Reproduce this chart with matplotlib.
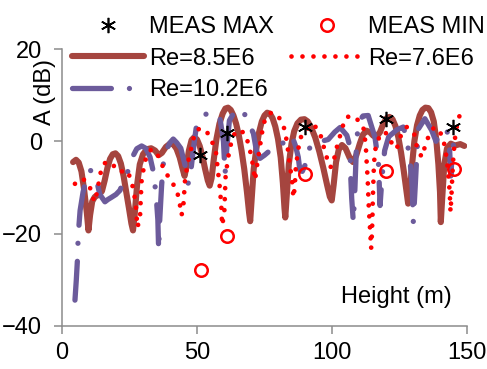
import matplotlib
matplotlib.use("Agg")
import matplotlib.pyplot as plt

plt.rcParams['font.family'] = ['Liberation Sans', 'DejaVu Sans']
plt.rcParams['lines.scale_dashes'] = False

# ---------------- data ----------------
meas_max_x = [51.1, 61.0, 90.0, 120.0, 144.7]
meas_max_y = [-3.0, 1.7, 3.0, 4.8, 3.1]

meas_min_x = [51.4, 61.0, 90.0, 120.0, 145.0]
meas_min_y = [-27.8, -20.4, -7.0, -6.5, -5.9]

re85_x = [4.1, 5.2, 6.2, 7.2, 8.2, 9.2, 9.8, 10.4, 11.2, 12.2, 13.5, 14.8, 15.8, 16.8,
          17.8, 18.8, 19.8, 20.8, 21.8, 22.8, 23.8, 24.8, 25.7, 26.3, 26.9, 27.8, 28.8,
          30.0, 31.5, 33.0, 34.5, 35.8, 37.0, 38.5, 40.0, 41.2, 42.4, 43.6, 44.6, 45.4,
          46.1, 47.0, 48.0, 49.0, 50.0, 51.0, 52.0, 53.0, 54.0, 54.7, 55.4, 56.2, 57.2,
          58.3, 59.5, 60.5, 61.5, 62.5, 63.5, 64.5, 65.5, 66.5, 67.5, 68.5, 69.3, 69.7,
          70.2, 71.0, 72.0, 73.0, 74.0, 75.0, 76.0, 77.0, 78.0, 79.0, 80.0, 81.0, 81.8,
          82.4, 82.7, 83.2, 84.0, 85.0, 86.0, 87.2, 88.5, 89.8, 91.0, 92.3, 93.8, 95.3,
          96.8, 98.2, 99.2, 99.9, 100.6, 101.5, 102.5, 103.7, 105.0, 106.5, 107.8, 109.0,
          110.3, 111.5, 112.8, 114.0, 115.3, 116.5, 117.8, 119.0, 120.2, 121.3, 122.4,
          123.5, 124.6, 125.6, 126.6, 127.5, 128.2, 128.7, 129.5, 130.5, 131.5, 132.5,
          133.5, 134.6, 135.7, 136.7, 137.7, 138.6, 139.4, 140.0, 140.3, 140.8, 141.6,
          142.6, 144.0, 145.5, 147.5, 149.0]
re85_y = [-4.5, -4.0, -4.6, -6.5, -10.5, -15.5, -19.3, -16.0, -13.0, -12.0, -11.6, -10.8,
          -8.5, -5.8, -3.8, -2.8, -2.6, -3.2, -4.8, -7.5, -11.0, -14.5, -17.8, -19.3,
          -16.0, -9.5, -5.0, -2.8, -1.7, -1.5, -2.0, -3.0, -2.5, -1.2, -0.5, -0.6, -1.6,
          -3.5, -5.8, -7.5, -5.5, -2.0, 0.3, 0.9, 0.4, -1.0, -3.2, -6.0, -8.5, -9.6, -8.0,
          -4.0, 0.5, 3.8, 6.0, 7.1, 7.3, 6.8, 5.6, 3.8, 1.3, -2.0, -6.0, -11.0, -15.5,
          -17.3, -13.0, -6.0, -1.5, 2.0, 4.3, 5.6, 6.2, 6.0, 5.0, 3.2, 0.5, -3.5, -9.0,
          -14.5, -16.5, -12.0, -5.0, -0.5, 2.2, 3.9, 4.7, 4.8, 4.3, 3.0, 0.8, -2.2, -5.8,
          -9.5, -12.0, -12.8, -9.5, -4.5, -1.8, -0.8, -1.5, -3.5, -4.5, -3.0, -0.5, 1.5,
          2.3, 2.0, 1.2, 1.0, 2.0, 3.8, 5.0, 5.3, 4.8, 3.3, 0.8, -2.5, -6.5, -10.5, -13.5,
          -12.5, -6.0, 0.0, 3.5, 5.6, 6.8, 7.3, 7.2, 6.3, 4.3, 0.5, -5.0, -11.0, -17.5,
          -12.5, -5.0, -1.5, -0.5, -0.9, -0.6, -1.0]

re76_x = [4.8, 6.0, 7.3, 8.8, 10.1, 11.4, 12.2, 13.1, 14.7, 16.2, 17.8, 19.5, 20.9, 22.5,
          24.2, 25.8, 26.7, 27.4, 27.9, 28.5, 28.9, 29.2, 29.5, 30.5, 31.4, 33.0, 34.4,
          36.2, 38.1, 40.5, 42.7, 43.6, 44.3, 45.0, 45.6, 46.5, 47.4, 49.3, 51.0, 53.3,
          55.2, 57.0, 58.5, 59.0, 59.3, 60.1, 60.6, 61.3, 62.0, 63.3, 64.7, 66.3, 67.8,
          69.0, 70.2, 70.9, 71.5, 72.3, 73.3, 74.6, 76.0, 77.7, 79.3, 80.7, 82.6, 83.8,
          84.4, 85.2, 85.7, 86.2, 86.6, 87.5, 88.1, 90.5, 93.1, 95.6, 96.8, 98.0, 99.3,
          100.5, 101.1, 102.3, 104.8, 106.5, 108.5, 110.5, 111.6, 112.2, 112.6, 112.9,
          113.2, 113.4, 113.6, 113.9, 114.2, 114.5, 114.8, 115.0, 115.1, 115.3, 115.5,
          115.9, 117.8, 119.5, 120.9, 122.7, 124.0, 125.2, 127.7, 129.3, 130.7, 131.4,
          133.2, 134.4, 136.0, 137.8, 139.4, 141.2, 142.5, 143.1, 143.6, 143.9, 144.3,
          144.6, 145.0, 145.7, 146.8, 148.6]
re76_y = [-9.2, -8.5, -8.1, -8.5, -9.5, -12.1, -13.1, -10.6, -5.6, -4.5, -4.5, -5.5, -6.6,
          -6.5, -6.3, -8.8, -11.3, -14.2, -18.6, -17.5, -16.4, -12.0, -8.4, -5.0, -3.0,
          -1.8, -1.9, -3.8, -6.6, -8.5, -11.0, -13.5, -16.0, -13.5, -8.1, -5.0, -2.7, 2.0,
          2.8, 2.4, 0.5, -2.3, -10.3, -14.0, -18.2, -15.7, -7.4, -4.5, -1.9, 1.0, 2.4, 2.2,
          1.7, -0.5, -3.4, -5.9, -8.4, -5.0, -1.2, 3.8, 5.5, 6.3, 5.8, 4.9, 2.4, -2.3,
          -5.2, -8.4, -12.2, -10.0, -5.5, -1.9, 0.6, 2.5, 3.8, 1.7, -0.9, -3.4, -5.6, -5.2,
          -2.7, -0.2, 4.9, 5.5, 5.3, 4.0, 3.1, 0.6, -1.9, -5.2, -8.0, -11.0, -14.0, -17.0,
          -20.0, -23.2, -20.0, -16.0, -12.8, -9.0, -5.6, -2.0, 1.5, 2.0, 1.3, -1.2, -1.6,
          0.9, 3.1, 2.5, 1.3, -1.2, -3.4, -1.2, 1.5, 3.0, 2.7, 0.6, -3.7, -7.4, -11.0,
          -15.3, -11.0, -7.0, -3.0, 1.5, 4.9, 7.4]

re102_x = [4.8, 5.3, 5.7, 6.0, 6.7, 7.8, 9.0, 10.4, 11.5, 12.8, 14.0, 15.9, 17.0, 18.4,
           20.0, 21.5, 23.3, 24.6, 26.0, 27.7, 29.5, 31.0, 32.6, 34.0, 35.0, 35.5, 35.8,
           36.2, 36.9, 37.5, 38.5, 40.0, 41.2, 42.5, 44.0, 45.5, 46.8, 47.8, 48.8, 49.9,
           52.0, 54.8, 56.5, 58.5, 59.8, 60.4, 61.1, 62.0, 64.0, 66.5, 68.0, 69.5, 70.9,
           72.0, 73.3, 75.0, 77.0, 79.0, 80.7, 82.6, 85.1, 86.5, 87.5, 88.1, 89.0, 90.0,
           90.6, 92.0, 94.0, 96.0, 98.6, 101.0, 103.0, 105.5, 106.7, 106.9, 107.3, 107.9,
           108.5, 109.0, 109.7, 111.5, 113.4, 115.9, 117.2, 117.8, 118.5, 119.5, 121.0,
           124.0, 126.4, 127.5, 128.9, 129.7, 130.1, 130.8, 131.5, 132.0, 134.4, 136.9,
           138.5, 140.0, 142.5, 143.5, 144.0, 144.6, 145.5, 146.5]
re102_y = [-34.4, -30.0, -25.8, -20.4, -15.0, -11.0, -8.0, -6.3, -6.5, -8.4, -11.5, -13.1,
           -12.6, -12.1, -11.5, -10.6, -7.7, -6.3, -3.5, -1.6, -1.0, -1.5, -3.4, -7.0,
           -12.8, -17.0, -23.6, -17.0, -9.5, -5.0, -2.0, -0.3, 0.5, -0.3, -1.5, -5.0, -9.2,
           -6.0, -1.0, 3.8, 5.5, 6.3, 6.2, 5.0, 0.0, -7.0, -1.0, 4.5, 6.5, 7.0, 5.5, 3.5,
           1.7, -2.0, -3.7, -3.0, -2.0, -1.5, -1.2, 0.2, 1.3, -1.0, -3.4, -6.3, -6.5, -5.2,
           -3.4, -1.0, 0.0, 0.0, 0.4, 2.0, 3.0, 1.3, -1.2, -7.0, -12.4, -17.5, -10.0, -2.0,
           4.2, 5.5, 5.6, 0.9, -4.5, -13.9, -8.0, -2.0, 1.0, 2.5, 3.1, 1.0, -4.0, -10.0,
           -17.5, -10.0, -2.0, 2.7, 4.9, 2.4, 0.0, 1.5, 2.7, -1.0, -7.5, -2.0, 1.0, 2.0]

x_ticks = [0, 50, 100, 150]
y_ticks = [-40, -20, 0, 20]

# ---------------- style ----------------
brown = '#A5453F'
purple = '#6C5B9B'
red = '#FF0000'
gray = '#8C8C8C'
fs = 17

fig = plt.figure(figsize=(4.87, 3.69), dpi=100)
ax = fig.add_axes([62/487, 1-326/369, 405/487, 277/369])

l85, = ax.plot(re85_x, re85_y, color=brown, lw=4.4, solid_capstyle='round',
               solid_joinstyle='round', zorder=2)
l102, = ax.plot(re102_x, re102_y, color=purple, lw=3.8, dash_capstyle='round',
                dash_joinstyle='round', zorder=3)
l102.set_dashes((28, 13, 0.01, 13))
l76, = ax.plot(re76_x, re76_y, color=red, lw=3.4, dash_capstyle='round', zorder=4)
l76.set_dashes((0.01, 7.9))
mmax, = ax.plot(meas_max_x, meas_max_y, linestyle='none', marker=(6, 2, 0),
                markersize=11, markeredgewidth=1.2, color='black', zorder=6)
mmin, = ax.plot(meas_min_x, meas_min_y, linestyle='none', marker='o',
                markersize=9, markeredgewidth=1.8, markerfacecolor='none',
                markeredgecolor=red, zorder=5)

ax.set_xlim(0, 150)
ax.set_ylim(-40, 20)
ax.set_xticks(x_ticks)
ax.set_yticks(y_ticks)
for s in ['top', 'right']:
    ax.spines[s].set_visible(False)
for s in ['left', 'bottom']:
    ax.spines[s].set_color(gray)
    ax.spines[s].set_linewidth(1.1)
ax.tick_params(axis='both', colors=gray, labelcolor='black', labelsize=fs,
               direction='out', width=1.1, length=5.5)
ax.tick_params(axis='y', pad=9)
ax.tick_params(axis='x', pad=6)
ax.patch.set_alpha(0)

fig.text(396/487, 1-303/369, 'Height (m)', ha='center', va='baseline', fontsize=fs)
fig.text(45/487, 1-92/369, 'A (dB)', rotation=90, ha='center', va='center', fontsize=fs)

handles = [mmax, l85, l102, mmin, l76]
labels = ['MEAS MAX', 'Re=8.5E6', 'Re=10.2E6', 'MEAS MIN', 'Re=7.6E6']
leg = fig.legend(handles, labels, ncol=2, loc='upper left',
                 bbox_to_anchor=(72/487, 1-16/369), borderaxespad=0, borderpad=0,
                 frameon=False, fontsize=fs, handlelength=3.05, handletextpad=0.22,
                 columnspacing=0.72, labelspacing=0.41)

fig.savefig('out.png', dpi=100)
